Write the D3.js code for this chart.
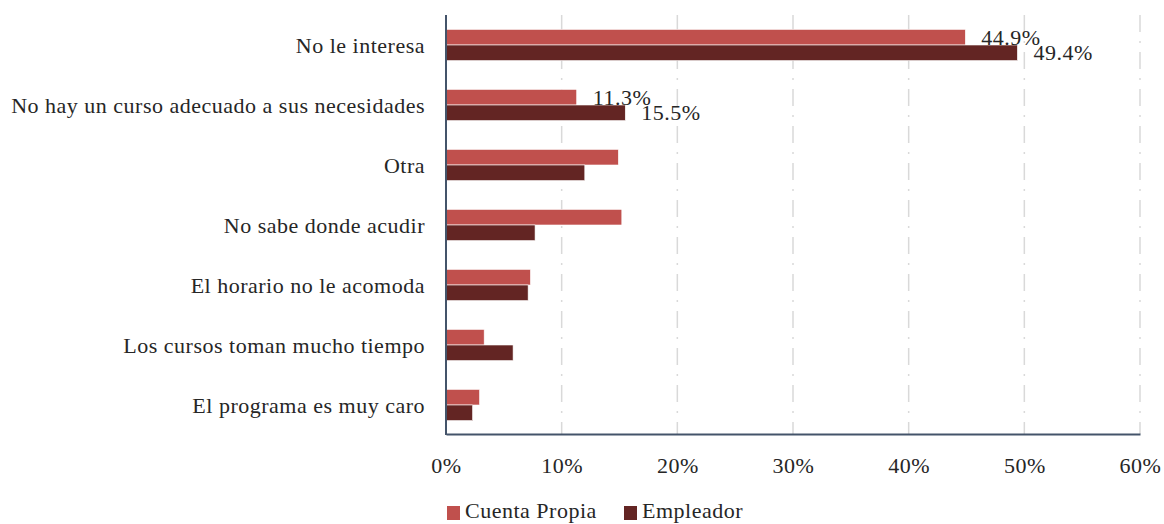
<!DOCTYPE html>
<html>
<head>
<meta charset="utf-8">
<script src="https://cdn.jsdelivr.net/npm/d3@7"></script>
<style>
  body { margin: 0; background: #fff; }
</style>
</head>
<body>
<div id="chart"></div>
<script>
let categories = [
  "No le interesa",
  "No hay un curso adecuado a sus necesidades",
  "Otra",
  "No sabe donde acudir",
  "El horario no le acomoda",
  "Los cursos toman mucho tiempo",
  "El programa es muy caro"
];
let seriesNames = ["Cuenta Propia", "Empleador"];
let cuentaPropia = [44.9, 11.3, 14.9, 15.2, 7.3, 3.3, 2.9];
let empleador = [49.4, 15.5, 12.0, 7.7, 7.1, 5.8, 2.3];
// only the first two categories carry value labels
let labelled = [true, true, false, false, false, false, false];
let xTicks = [0, 10, 20, 30, 40, 50, 60];
let colors = ["#C0504D", "#632523"];

let width = 1164;
let height = 524;
let font = "'Liberation Serif', 'Times New Roman', 'DejaVu Serif', serif";
let fontSize = 22;
let spacing = 0.5;
let textColor = "#262626";

let svg = d3.select("#chart")
  .append("svg")
  .attr("width", width)
  .attr("height", height)
  .attr("font-family", font);

let xScale = d3.scaleLinear().domain([0, 60]).range([446, 1140]);

let yScale = d3.scaleBand()
  .domain(categories)
  .range([15, 435])
  .paddingInner(0.48)
  .paddingOuter(0.24);

let ySub = d3.scaleBand()
  .domain(seriesNames)
  .range([0, yScale.bandwidth()]);

// gridlines
svg.append("g")
  .selectAll("line")
  .data(xTicks.slice(1))
  .enter()
  .append("line")
  .attr("x1", d => xScale(d))
  .attr("x2", d => xScale(d))
  .attr("y1", 15)
  .attr("y2", 434)
  .attr("stroke", "#d9d9d9")
  .attr("stroke-width", 1.5)
  .attr("stroke-dasharray", "17,9,2,9");

let data = categories.map(function(c, i) {
  return { cat: c, vals: [cuentaPropia[i], empleador[i]], lab: labelled[i] };
});

let groups = svg.selectAll("g.cat")
  .data(data)
  .enter()
  .append("g")
  .attr("class", "cat")
  .attr("transform", d => "translate(0," + yScale(d.cat) + ")");

groups.selectAll("rect")
  .data(d => d.vals.map((v, j) => ({ v: v, s: seriesNames[j], j: j })))
  .enter()
  .append("rect")
  .attr("x", xScale(0))
  .attr("y", d => ySub(d.s))
  .attr("width", d => xScale(d.v) - xScale(0))
  .attr("height", ySub.bandwidth())
  .attr("fill", d => colors[d.j])
  .attr("stroke", "#fff")
  .attr("stroke-width", 0.6);

groups.filter(d => d.lab)
  .selectAll("text.val")
  .data(d => d.vals.map((v, j) => ({ v: v, s: seriesNames[j] })))
  .enter()
  .append("text")
  .attr("class", "val")
  .attr("x", d => xScale(d.v) + 16)
  .attr("y", d => ySub(d.s) + ySub.bandwidth() - 0.5)
  .attr("font-family", font)
  .attr("font-size", fontSize)
  .attr("letter-spacing", spacing)
  .attr("fill", textColor)
  .text(d => d.v.toFixed(1) + "%");

// category labels
svg.append("g")
  .selectAll("text")
  .data(categories)
  .enter()
  .append("text")
  .attr("x", 425)
  .attr("y", d => yScale(d) + yScale.bandwidth() / 2)
  .attr("dy", "0.35em")
  .attr("text-anchor", "end")
  .attr("font-family", font)
  .attr("font-size", fontSize)
  .attr("letter-spacing", spacing)
  .attr("fill", textColor)
  .text(d => d);

// axes
let xAxis = d3.axisBottom(xScale)
  .tickValues(xTicks)
  .tickSize(0)
  .tickPadding(23)
  .tickFormat(d => d + "%");

let xAxisG = svg.append("g")
  .attr("transform", "translate(0,434)")
  .call(xAxis)
  .attr("font-family", font)
  .attr("font-size", fontSize);
xAxisG.select(".domain").attr("stroke", "#44546A").attr("stroke-width", 2);
xAxisG.selectAll("text").attr("fill", textColor).attr("letter-spacing", spacing);

svg.append("line")
  .attr("x1", xScale(0))
  .attr("x2", xScale(0))
  .attr("y1", 15)
  .attr("y2", 435)
  .attr("stroke", "#44546A")
  .attr("stroke-width", 2);

// legend
let legend = svg.append("g");
let legendX = [447, 624];
seriesNames.forEach(function(s, i) {
  legend.append("rect")
    .attr("x", legendX[i])
    .attr("y", 506)
    .attr("width", 13)
    .attr("height", 14)
    .attr("fill", colors[i]);
  legend.append("text")
    .attr("x", legendX[i] + 18)
    .attr("y", 518)
    .attr("font-family", font)
    .attr("font-size", fontSize)
    .attr("letter-spacing", spacing)
    .attr("fill", textColor)
    .text(s);
});
</script>
</body>
</html>
